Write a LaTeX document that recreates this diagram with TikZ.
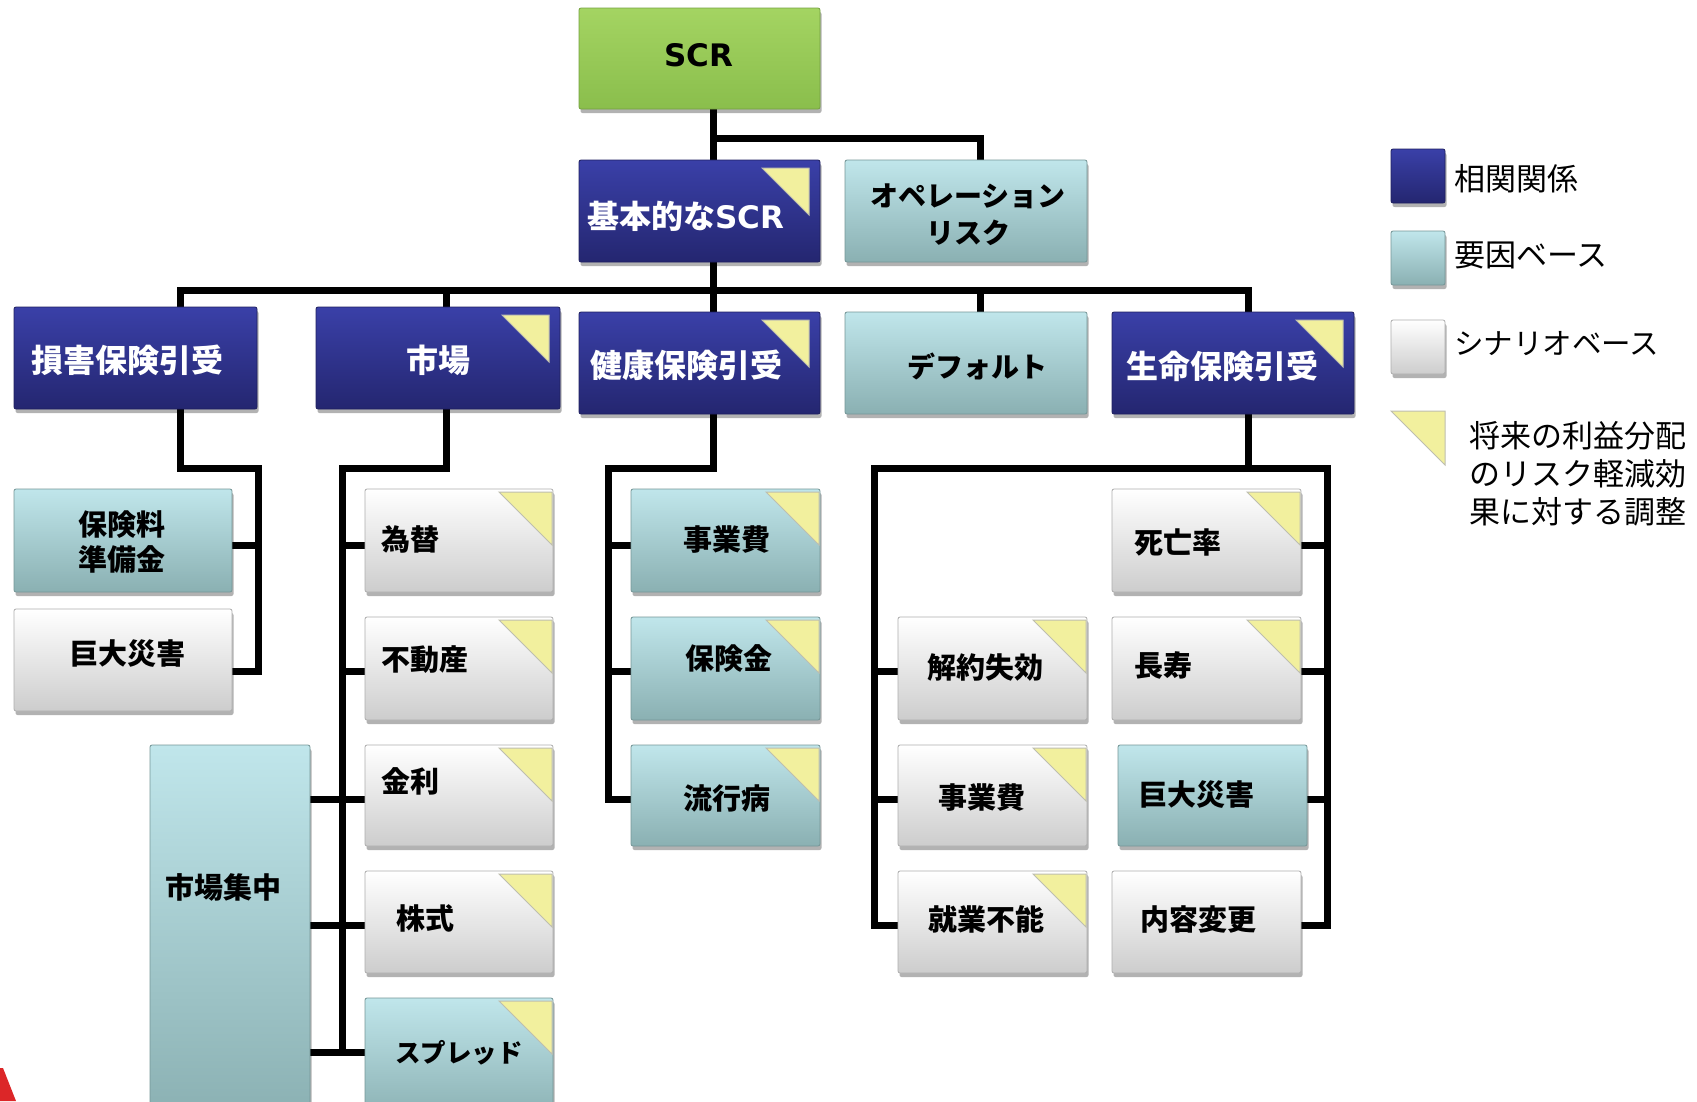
\documentclass[tikz,border=0pt]{standalone}
\usepackage{fontspec}
\newfontfamily\jp{Noto Sans CJK JP}
\newfontfamily\dv{DejaVu Sans}
\usetikzlibrary{shadows,fit,calc}
\definecolor{dbT}{RGB}{58,64,168}
\definecolor{dbB}{RGB}{36,38,112}
\definecolor{tlT}{RGB}{192,230,235}
\definecolor{tlB}{RGB}{138,176,178}
\definecolor{whT}{RGB}{255,255,255}
\definecolor{whB}{RGB}{205,205,205}
\definecolor{grT}{RGB}{164,212,98}
\definecolor{grB}{RGB}{138,190,76}
\definecolor{triY}{RGB}{242,240,158}
\definecolor{triE}{RGB}{190,190,175}
\definecolor{redmark}{RGB}{220,38,40}
\begin{document}
\begin{tikzpicture}[x=1pt,y=-1pt,
  area/.style={inner sep=0pt, outer sep=0pt},
  boxbase/.style={inner sep=0pt, outer sep=0pt, rounded corners=2pt, line width=0.8pt,
    drop shadow={shadow xshift=1.5pt, shadow yshift=-4pt, opacity=0.3, fill=black}},
  darkbox/.style={boxbase, top color=dbT, bottom color=dbB, draw=dbB!85!black},
  tealbox/.style={boxbase, top color=tlT, bottom color=tlB, draw=tlB!85!black},
  whitebox/.style={boxbase, top color=whT, bottom color=whB, draw=whB!85!black},
  greenbox/.style={boxbase, top color=grT, bottom color=grB, draw=grB!85!black},
  conn/.style={line width=7pt, line join=miter, draw=black},
  toplbl/.style={font=\jp\bfseries\fontsize{32}{37}\selectfont, inner sep=0pt, align=center},
  kanalbl/.style={font=\jp\bfseries\fontsize{28}{37}\selectfont, inner sep=0pt, align=center},
  sublbl/.style={font=\jp\bfseries\fontsize{29}{35}\selectfont, inner sep=0pt, align=center},
  leglbl/.style={font=\jp\fontsize{31}{38}\selectfont, inner sep=0pt, anchor=west, align=left},
  tri/.style={fill=triY, draw=triE, line width=1pt}
]
\useasboundingbox (0,0) rectangle (1697,1101);
\clip (0,0) rectangle (1697,1101);

% ---------- connector coordinates ----------
\coordinate (j0) at (713,138);
\coordinate (j1) at (980,138);
\coordinate (b1) at (180,290);
\coordinate (b2) at (446,290);
\coordinate (b3) at (713,290);
\coordinate (b4) at (980,290);
\coordinate (b5) at (1248,290);
\coordinate (a1) at (180,468);
\coordinate (a2) at (258,468);
\coordinate (a3) at (258,545);
\coordinate (a4) at (258,671);
\coordinate (m1) at (446,468);
\coordinate (m2) at (342,468);
\coordinate (mA) at (342,545);
\coordinate (mB) at (342,671);
\coordinate (mC) at (342,799);
\coordinate (mD) at (342,925);
\coordinate (mE) at (342,1052);
\coordinate (k1) at (713,468);
\coordinate (k2) at (608,468);
\coordinate (kA) at (608,545);
\coordinate (kB) at (608,671);
\coordinate (kC) at (608,799);
\coordinate (l0) at (1248,468);
\coordinate (lL) at (874,468);
\coordinate (lR) at (1327,468);
\coordinate (lLB) at (874,671);
\coordinate (lLC) at (874,799);
\coordinate (lLD) at (874,925);
\coordinate (lRA) at (1327,545);
\coordinate (lRB) at (1327,671);
\coordinate (lRC) at (1327,799);
\coordinate (lRD) at (1327,925);

% ---------- boxes (geometry only, no text) ----------
\path[every node/.style={area}]
  node[fit={(579,8) (820,109)}] (scr) {}
  node[fit={(579,160) (820,262)}] (basic) {}
  node[fit={(845,160) (1087,262)}] (oper) {}
  node[fit={(14,307) (257,409)}] (sonpo) {}
  node[fit={(316,307) (560,409)}] (market) {}
  node[fit={(579,312) (820,414)}] (kenko) {}
  node[fit={(845,312) (1087,414)}] (dflt) {}
  node[fit={(1112,312) (1354,414)}] (seimei) {}
  node[fit={(14,489) (232,592)}] (hokenryo) {}
  node[fit={(14,609) (232,711)}] (kyodaiA) {}
  node[fit={(365,489) (553,592)}] (kawase) {}
  node[fit={(365,617) (553,720)}] (fudosan) {}
  node[fit={(365,745) (553,846)}] (kinri) {}
  node[fit={(365,871) (553,973)}] (kabu) {}
  node[fit={(365,998) (553,1120)}] (spread) {}
  node[fit={(150,745) (310,1120)}] (shuchu) {}
  node[fit={(631,489) (820,592)}] (kjigyo) {}
  node[fit={(631,617) (820,720)}] (hokenkin) {}
  node[fit={(631,745) (820,846)}] (ryuko) {}
  node[fit={(1112,489) (1301,592)}] (shibo) {}
  node[fit={(898,617) (1087,720)}] (kaiyaku) {}
  node[fit={(1112,617) (1301,720)}] (choju) {}
  node[fit={(898,745) (1087,846)}] (sjigyo) {}
  node[fit={(1118,745) (1307,846)}] (kyodaiB) {}
  node[fit={(898,871) (1087,973)}] (shugyo) {}
  node[fit={(1112,871) (1301,973)}] (naiyo) {};

% ---------- connectors ----------
\draw[conn] (scr.south -| j0) -- (basic.north -| j0);
\draw[conn] (j0) -- (j1) -- (oper.north -| j1);
\draw[conn] (basic.south -| b3) -- (b3);
\draw[conn] (sonpo.north -| b1) -- (b1) -- (b5) -- (seimei.north -| b5);
\draw[conn] (b2) -- (market.north -| b2);
\draw[conn] (b3) -- (kenko.north -| b3);
\draw[conn] (b4) -- (dflt.north -| b4);
% non-life
\draw[conn] (sonpo.south -| a1) -- (a1) -- (a2) -- (a4) -- (a4 -| kyodaiA.east);
\draw[conn] (a3) -- (a3 -| hokenryo.east);
% market
\draw[conn] (market.south -| m1) -- (m1) -- (m2) -- (mE) -- (mE -| spread.west);
\draw[conn] (mA) -- (mA -| kawase.west);
\draw[conn] (mB) -- (mB -| fudosan.west);
\draw[conn] (mC -| shuchu.east) -- (mC -| kinri.west);
\draw[conn] (mD -| shuchu.east) -- (mD -| kabu.west);
\draw[conn] (mE -| shuchu.east) -- (mE);
% health
\draw[conn] (kenko.south -| k1) -- (k1) -- (k2) -- (kC) -- (kC -| ryuko.west);
\draw[conn] (kA) -- (kA -| kjigyo.west);
\draw[conn] (kB) -- (kB -| hokenkin.west);
% life
\draw[conn] (seimei.south -| l0) -- (l0);
\draw[conn] (lLD -| shugyo.west) -- (lLD) -- (lL) -- (lR) -- (lRD) -- (lRD -| naiyo.east);
\draw[conn] (lLB) -- (lLB -| kaiyaku.west);
\draw[conn] (lLC) -- (lLC -| sjigyo.west);
\draw[conn] (lRA) -- (lRA -| shibo.east);
\draw[conn] (lRB) -- (lRB -| choju.east);
\draw[conn] (lRC) -- (lRC -| kyodaiB.east);

% ---------- box fills ----------
\path[greenbox] (scr.north west) rectangle (scr.south east);
\foreach \n in {basic,sonpo,market,kenko,seimei}
  \path[darkbox] (\n.north west) rectangle (\n.south east);
\foreach \n in {oper,dflt,hokenryo,spread,shuchu,kjigyo,hokenkin,ryuko,kyodaiB}
  \path[tealbox] (\n.north west) rectangle (\n.south east);
\foreach \n in {kyodaiA,kawase,fudosan,kinri,kabu,shibo,kaiyaku,choju,sjigyo,shugyo,naiyo}
  \path[whitebox] (\n.north west) rectangle (\n.south east);

% ---------- corner triangles ----------
\foreach \n in {basic,market,kenko,seimei}
  \draw[tri] ([xshift=-58pt,yshift=-8pt]\n.north east) -- ([xshift=-11pt,yshift=-8pt]\n.north east)
     -- ([xshift=-11pt,yshift=-55pt]\n.north east) -- cycle;
\foreach \n in {kawase,fudosan,kinri,kabu,spread,kjigyo,hokenkin,ryuko,shibo,kaiyaku,choju,sjigyo,shugyo}
  \draw[tri] ([xshift=-54pt,yshift=-3pt]\n.north east) -- ([xshift=-1pt,yshift=-3pt]\n.north east)
     -- ([xshift=-1pt,yshift=-56pt]\n.north east) -- cycle;

% ---------- labels ----------
\node[toplbl, font=\dv\bfseries\fontsize{31}{37}\selectfont] (tscr) at (699,55) {SCR};
\node[toplbl, text=white] (tbasic) at (686,216) {基本的な{\dv\bfseries\fontsize{31}{37}\selectfont SCR}};
\node[kanalbl] (toper) at (968,215) {オペレーション\\リスク};
\node[toplbl, text=white] (tsonpo) at (127,360) {損害保険引受};
\node[toplbl, text=white] (tmarket) at (438,360) {市場};
\node[toplbl, text=white] (tkenko) at (686,365) {健康保険引受};
\node[kanalbl] (tdflt) at (977,366) {デフォルト};
\node[toplbl, text=white] (tseimei) at (1222,366) {生命保険引受};

\node[sublbl] (thokenryo) at (122,542) {保険料\\準備金};
\node[sublbl] (tkyodaiA) at (127,654) {巨大災害};
\node[sublbl, anchor=west] (tkawase) at (381,539) {為替};
\node[sublbl, anchor=west] (tfudosan) at (381,660) {不動産};
\node[sublbl, anchor=west] (tkinri) at (381,781) {金利};
\node[sublbl, anchor=west] (tkabu) at (396,918) {株式};
\node[sublbl, anchor=west, font=\jp\bfseries\fontsize{25.5}{35}\selectfont] (tspread) at (395,1053) {スプレッド};
\node[sublbl] (tshuchu) at (223,887) {市場集中};
\node[sublbl] (tkjigyo) at (727,540) {事業費};
\node[sublbl] (thokenkin) at (729,658) {保険金};
\node[sublbl] (tryuko) at (727,798) {流行病};
\node[sublbl] (tshibo) at (1178,542) {死亡率};
\node[sublbl] (tkaiyaku) at (985,667) {解約失効};
\node[sublbl] (tchoju) at (1163,665) {長寿};
\node[sublbl] (tsjigyo) at (982,798) {事業費};
\node[sublbl] (tkyodaiB) at (1196,795) {巨大災害};
\node[sublbl] (tshugyo) at (986,919) {就業不能};
\node[sublbl] (tnaiyo) at (1198,919) {内容変更};

% ---------- legend ----------
\path[darkbox] (1391,149) rectangle (1445,203);
\path[tealbox] (1391,231) rectangle (1445,285);
\path[whitebox] (1391,320) rectangle (1445,374);
\draw[tri] (1391,411) -- (1445,411) -- (1445,465) -- cycle;
\node[leglbl] (lg1) at (1454,179) {相関関係};
\node[leglbl] (lg2) at (1454,255) {要因ベース};
\node[leglbl, font=\jp\fontsize{29.5}{38}\selectfont] (lg3) at (1454,344) {シナリオベース};
\node[leglbl] (lg4) at (1469,474) {将来の利益分配\\のリスク軽減効\\果に対する調整};

% ---------- red corner mark ----------
\fill[redmark] (0,1068) -- (3,1068) -- (16,1101) -- (0,1101) -- cycle;
\end{tikzpicture}
\end{document}
